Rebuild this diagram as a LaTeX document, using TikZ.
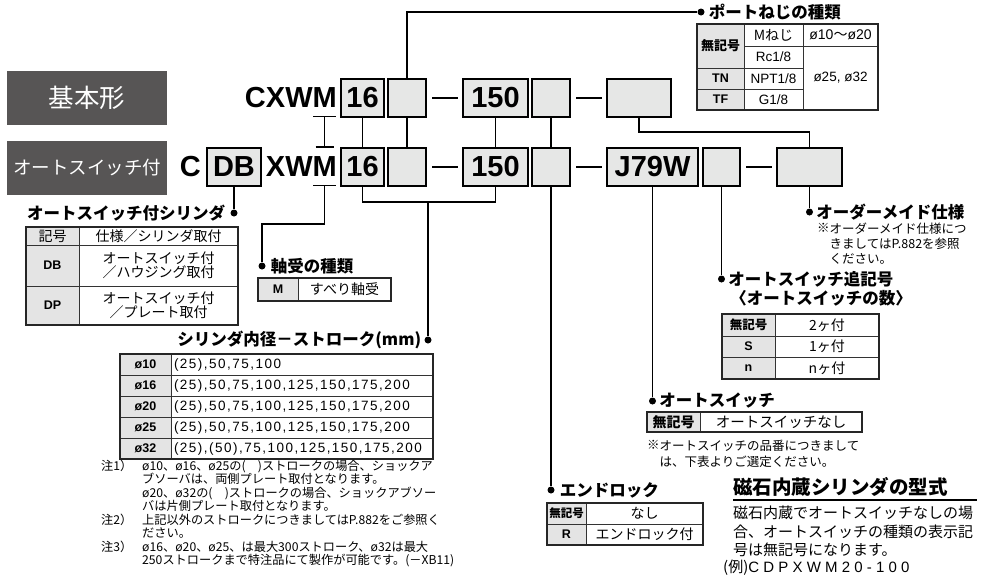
\documentclass[tikz,border=0pt]{standalone}
\usepackage{fontspec}
\setmainfont{Noto Sans CJK JP}
\newfontfamily\codefont{Liberation Sans}
\usetikzlibrary{positioning}
\definecolor{boxgray}{HTML}{E6E7E6}
\definecolor{cellgray}{HTML}{E4E4E4}
\definecolor{labelgray}{HTML}{575555}
\tikzset{
  codebox/.style={draw=black, fill=boxgray, line width=1.2pt, minimum height=38pt,
    inner sep=0pt, outer sep=0pt, font=\codefont\bfseries\fontsize{29}{29}\selectfont},
  codetext/.style={inner sep=0pt, font=\codefont\bfseries\fontsize{29}{29}\selectfont},
  kindbox/.style={fill=labelgray, text=white, minimum width=160pt, minimum height=54pt, inner sep=0pt},
  wire/.style={line width=1.1pt},
  bar/.style={line width=2.4pt},
  dot/.style={circle, fill=black, inner sep=0pt, minimum size=7pt},
  title/.style={inner sep=0pt, font=\bfseries\fontsize{16.5}{18}\selectfont},
  cell/.style={draw=black!80, line width=0.7pt, inner sep=0pt, outer sep=0pt, anchor=north west,
    align=center, font=\fontsize{14}{14.5}\selectfont},
  latcell/.style={cell, font=\codefont\fontsize{13.5}{14}\selectfont},
  keycell/.style={cell, fill=cellgray, font=\bfseries\fontsize{13}{14}\selectfont},
  latkey/.style={cell, fill=cellgray, font=\codefont\bfseries\fontsize{12.5}{13}\selectfont},
  frame/.style={draw=black!85, line width=1.2pt},
  note/.style={inner sep=0pt, anchor=north west, align=left, font=\fontsize{12.2}{13.5}\selectfont},
}
\begin{document}
\begin{tikzpicture}[x=1pt, y=-1pt]
\useasboundingbox (0,0) rectangle (984,582);

% kind labels
\node[kindbox, font=\fontsize{25.5}{26}\selectfont] (basic) at (87,98) {基本形};
\node[kindbox, font=\fontsize{18.5}{20}\selectfont] (withsw) at (87,168) {オートスイッチ付};

% model code, basic
\node[codetext, anchor=east] (topname) at (337,98) {CXWM};
\node[codebox, minimum width=43pt] (t16) at (362.5,98) {16};
\node[codebox, minimum width=38pt, right=4pt of t16] (tA) {};
\node[codebox, minimum width=65pt] (t150) at (495.5,98) {150};
\node[codebox, minimum width=38pt, right=4pt of t150] (tB) {};
\node[codebox, minimum width=64pt] (tC) at (639,98) {};
\draw[bar] ([xshift=6pt]tA.east) -- ([xshift=-5pt]t150.west);
\draw[bar] ([xshift=6pt]tB.east) -- ([xshift=-5pt]tC.west);

% model code, with auto switch
\node[codetext, anchor=east] (botc) at (201,167) {C};
\node[codebox, minimum width=54pt] (db) at (234,167) {DB};
\node[codetext, anchor=east] (botname) at (337,167) {XWM};
\node[codebox, minimum width=43pt] (b16) at (362.5,167) {16};
\node[codebox, minimum width=38pt, right=4pt of b16] (bA) {};
\node[codebox, minimum width=65pt] (b150) at (495.5,167) {150};
\node[codebox, minimum width=38pt, right=4pt of b150] (bB) {};
\node[codebox, minimum width=91pt] (bJ) at (652.5,167) {J79W};
\node[codebox, minimum width=37pt, right=5pt of bJ] (bC) {};
\node[codebox, minimum width=65pt] (bD) at (809.5,167) {};
\draw[bar] ([xshift=6pt]bA.east) -- ([xshift=-5pt]b150.west);
\draw[bar] ([xshift=6pt]bB.east) -- ([xshift=-5pt]bJ.west);
\draw[bar] ([xshift=6pt]bC.east) -- ([xshift=-5pt]bD.west);

% bearing mark under M
\coordinate (mtop) at (324.5,116.5);
\coordinate (mmid) at (324.5,147);
\coordinate (mbot) at (324.5,185.5);
\draw[wire] ([xshift=-11.5pt]mtop) -- ([xshift=11.5pt]mtop);
\draw[wire] (mtop) -- (mmid);
\draw[wire] ([xshift=-9pt]mmid) -- ([xshift=9pt]mmid);
\draw[wire] ([xshift=-11.5pt]mbot) -- ([xshift=11.5pt]mbot);

% top to bottom
\draw[wire] (t16) -- (b16);
\draw[wire] (tA) -- (bA);
\draw[wire] (t150) -- (b150);
\draw[wire] (tB) -- (bB);
\draw[wire] (tC.south) -- ++(0,15) -| (bD.north);

% port thread
\node[dot] (portdot) at (701,12) {};
\draw[wire] (tA.north) |- (portdot);
\node[title, right=4pt of portdot] (porttitle) {ポートねじの種類};
\node[keycell, minimum width=47pt, minimum height=44pt] (pk1) at (697,24) {無記号};
\node[latkey, minimum width=47pt, minimum height=21pt] (pk2) at (697,68) {TN};
\node[latkey, minimum width=47pt, minimum height=21pt] (pk3) at (697,89) {TF};
\node[cell, minimum width=59pt, minimum height=22pt] (pv1) at (744,24) {Mねじ};
\node[latcell, minimum width=59pt, minimum height=22pt] (pv2) at (744,46) {Rc1/8};
\node[latcell, minimum width=59pt, minimum height=21pt] (pv3) at (744,68) {NPT1/8};
\node[latcell, minimum width=59pt, minimum height=21pt] (pv4) at (744,89) {G1/8};
\node[cell, minimum width=75pt, minimum height=22pt] (ps1) at (803,24) {{\codefont ø10}〜{\codefont ø20}};
\node[latcell, minimum width=75pt, minimum height=64pt] (ps2) at (803,46) {ø25, ø32};
\draw[frame] (pk1.north west) rectangle (ps2.south east);

% cylinder with auto switch
\node[dot] (cyldot) at (234,213) {};
\draw[wire] (db) -- (cyldot);
\node[title, left=5pt of cyldot] (cyltitle) {オートスイッチ付シリンダ};
\node[cell, fill=cellgray, minimum width=53pt, minimum height=18pt] (ck0) at (26,227) {記号};
\node[cell, minimum width=159pt, minimum height=18pt] (cv0) at (79,227) {仕様／シリンダ取付};
\node[latkey, minimum width=53pt, minimum height=41pt] (ck1) at (26,245) {DB};
\node[cell, minimum width=159pt, minimum height=41pt] (cv1) at (79,245) {オートスイッチ付\\／ハウジング取付};
\node[latkey, minimum width=53pt, minimum height=39pt] (ck2) at (26,286) {DP};
\node[cell, minimum width=159pt, minimum height=39pt] (cv2) at (79,286) {オートスイッチ付\\／プレート取付};
\draw[frame] (ck0.north west) rectangle (cv2.south east);

% bearing
\node[dot] (bearingdot) at (262,266) {};
\draw[wire] (mbot) -- ++(0,38.5) -| (bearingdot);
\node[title, right=5pt of bearingdot] (bearingtitle) {軸受の種類};
\node[latkey, minimum width=40pt, minimum height=23pt] (bk) at (258,278) {M};
\node[cell, minimum width=93pt, minimum height=23pt] (bv) at (298,278) {すべり軸受};
\draw[frame] (bk.north west) rectangle (bv.south east);

% bore and stroke
\coordinate (strokejoin) at (428,202);
\node[dot] (strokedot) at (428,340) {};
\draw[wire] (b16.south) -- ++(0,16) -| (b150.south);
\draw[wire] (strokejoin) -- (strokedot);
\node[title, left=3pt of strokedot] (stroketitle) {シリンダ内径－ストローク(mm)};
\tikzset{strokeval/.style={cell, minimum height=21pt, text width=256pt, inner xsep=3pt, align=left,
  font=\codefont\fontsize{13.5}{14}\selectfont\addfontfeature{LetterSpace=11}}}
\node[latkey, minimum width=51pt, minimum height=21pt] (sk1) at (120,354) {ø10};
\node[latkey, minimum width=51pt, minimum height=21pt] (sk2) at (120,375) {ø16};
\node[latkey, minimum width=51pt, minimum height=21pt] (sk3) at (120,396) {ø20};
\node[latkey, minimum width=51pt, minimum height=21pt] (sk4) at (120,417) {ø25};
\node[latkey, minimum width=51pt, minimum height=21pt] (sk5) at (120,438) {ø32};
\node[strokeval] (sv1) at (171,354) {(25),50,75,100};
\node[strokeval] (sv2) at (171,375) {(25),50,75,100,125,150,175,200};
\node[strokeval] (sv3) at (171,396) {(25),50,75,100,125,150,175,200};
\node[strokeval] (sv4) at (171,417) {(25),50,75,100,125,150,175,200};
\node[strokeval] (sv5) at (171,438) {(25),(50),75,100,125,150,175,200};
\draw[frame] (sk1.north west) rectangle (sv5.south east);
\node[note] (n1key) at (101,460) {注1）};
\node[note] (n1body) at (142,460) {ø10、ø16、ø25の(　)ストロークの場合、ショックア\\ブソーバは、両側プレート取付となります。\\ø20、ø32の(　)ストロークの場合、ショックアブソー\\バは片側プレート取付となります。};
\node[note] (n2key) at (101,514) {注2）};
\node[note] (n2body) at (142,514) {上記以外のストロークにつきましてはP.882をご参照く\\ださい。};
\node[note] (n3key) at (101,541) {注3）};
\node[note] (n3body) at (142,541) {ø16、ø20、ø25、は最大300ストローク、ø32は最大\\250ストロークまで特注品にて製作が可能です。(－XB11)};

% end lock
\node[dot] (enddot) at (551,490) {};
\draw[wire] (bB) -- (enddot);
\node[title, right=5pt of enddot] (endtitle) {エンドロック};
\node[keycell, minimum width=39pt, minimum height=21pt, font=\bfseries\fontsize{11.5}{12}\selectfont] (ek1) at (547,503) {無記号};
\node[cell, minimum width=117pt, minimum height=21pt] (ev1) at (586,503) {なし};
\node[latkey, minimum width=39pt, minimum height=21pt] (ek2) at (547,524) {R};
\node[cell, minimum width=117pt, minimum height=21pt] (ev2) at (586,524) {エンドロック付};
\draw[frame] (ek1.north west) rectangle (ev2.south east);

% auto switch
\node[dot] (swdot) at (652.5,401) {};
\draw[wire] (bJ) -- (swdot);
\node[title, right=3pt of swdot] (swtitle) {オートスイッチ};
\node[keycell, minimum width=53pt, minimum height=20pt, font=\bfseries\fontsize{14}{14}\selectfont] (wk) at (647,412) {無記号};
\node[cell, minimum width=162pt, minimum height=20pt, font=\fontsize{14.5}{15}\selectfont] (wv) at (700,412) {オートスイッチなし};
\draw[frame] (wk.north west) rectangle (wv.south east);
\node[note, font=\fontsize{12.5}{15.5}\selectfont] (swmark) at (647,440) {※};
\node[note, font=\fontsize{12.5}{15.5}\selectfont] (swnote) at (659.5,440) {オートスイッチの品番につきまして\\は、下表よりご選定ください。};

% number of auto switches
\node[dot] (cntdot) at (721.5,279) {};
\draw[wire] (bC) -- (cntdot);
\node[title, right=3pt of cntdot] (cnttitle) {オートスイッチ追記号};
\node[title, anchor=west] (cnttitle2) at ([xshift=2pt, yshift=-19pt]cnttitle.west) {〈オートスイッチの数〉};
\node[keycell, minimum width=53pt, minimum height=22pt, font=\bfseries\fontsize{12.5}{13}\selectfont] (nk1) at (722,314) {無記号};
\node[cell, minimum width=104pt, minimum height=22pt] (nv1) at (775,314) {2ヶ付};
\node[latkey, minimum width=53pt, minimum height=21pt] (nk2) at (722,336) {S};
\node[cell, minimum width=104pt, minimum height=21pt] (nv2) at (775,336) {1ヶ付};
\node[latkey, minimum width=53pt, minimum height=22pt] (nk3) at (722,357) {n};
\node[cell, minimum width=104pt, minimum height=22pt] (nv3) at (775,357) {nヶ付};
\draw[frame] (nk1.north west) rectangle (nv3.south east);

% made to order
\node[dot] (orderdot) at (809.5,212) {};
\draw[wire] (bD) -- (orderdot);
\node[title, right=3pt of orderdot] (ordertitle) {オーダーメイド仕様};
\node[note, font=\fontsize{12.5}{15}\selectfont] (ordermark) at (817,223) {※};
\node[note, font=\fontsize{12.5}{15}\selectfont] (ordernote) at (829.5,223) {オーダーメイド仕様につ\\きましてはP.882を参照\\ください。};

% built-in magnet cylinder
\node[inner sep=0pt, anchor=west, font=\bfseries\fontsize{19.5}{20}\selectfont] (magtitle) at (733,487) {磁石内蔵シリンダの型式};
\draw[line width=1.2pt] (733,500) -- (977,500);
\node[note, font=\fontsize{15}{18.5}\selectfont] (magbody) at (733,506) {磁石内蔵でオートスイッチなしの場\\合、オートスイッチの種類の表示記\\号は無記号になります。};
\node[inner sep=0pt, anchor=west, font=\fontsize{15}{16}\selectfont] (magex) at (723,568) {(例){\codefont\addfontfeature{LetterSpace=28}CDPXWM20-100}};
\end{tikzpicture}
\end{document}
